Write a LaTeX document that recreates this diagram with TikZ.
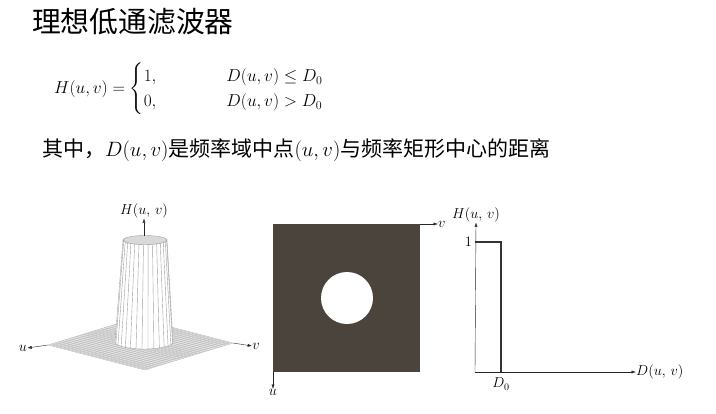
\documentclass[tikz,border=0pt]{standalone}
\usepackage{amsmath}
\usepackage{fontspec}
\newfontfamily\cjk{Noto Sans CJK SC}
\usetikzlibrary{positioning, arrows.meta, calc}
\definecolor{squarebrown}{HTML}{4B443D}
\definecolor{meshgray}{HTML}{B8B8B8}

\begin{document}
\begin{tikzpicture}[
	x=1pt, y=-1pt,
	% --- Styles ---
	titletext/.style={anchor=west, inner sep=0pt, font=\cjk\fontsize{28.8}{30}\selectfont},
	bodytext/.style={anchor=west, inner sep=0pt, font=\cjk\fontsize{21}{24}\selectfont},
	axislabel/.style={inner sep=0pt, font=\fontsize{14}{16}\selectfont},
	axis/.style={draw, -{Latex[length=4.5pt, width=3pt]}, thin, color=black!85},
	stepline/.style={draw, line width=1.4pt, color=black!80},
	mesh/.style={draw, color=meshgray, line width=0.35pt}
	]
	\useasboundingbox (0,0) rectangle (716,413);
	
	% --- 1. Title and formula ---
	\node [titletext] (title) at (32,22) {理想低通滤波器};
	\node [anchor=west, inner sep=0pt, font=\fontsize{17.5}{21}\selectfont] (formula) at (54,89)
	{$H(u,v)=\begin{cases}1, & \qquad\quad D(u,v)\le D_0\\ 0, & \qquad\quad D(u,v)> D_0\end{cases}$};
	\node [bodytext] (note) at (42,150)
	{其中，$D(u,v)$是频率域中点$(u,v)$与频率矩形中心的距离};
	
	% --- 2. Perspective plot (left) ---
	\coordinate (pL) at (48,345);
	\coordinate (pB) at (145,370);
	\coordinate (pR) at (233,343);
	\coordinate (pT) at (136,318);
	\fill [gray!22] (pL) -- (pB) -- (pR) -- (pT) -- cycle;
	\foreach \s in {0,0.04,...,1.01} {
		\draw [mesh] ($(pL)!\s!(pB)$) -- ($(pT)!\s!(pR)$);
		\draw [mesh] ($(pL)!\s!(pT)$) -- ($(pB)!\s!(pR)$);
	}
	
	% Cylinder wall
	\fill [white, draw=gray!70, line width=0.4pt] (167,240) -- (173,342)
	arc [start angle=0, end angle=180, x radius=29, y radius=7]
	-- (123,240) arc [start angle=180, end angle=0, x radius=22, y radius=4.5];
	\foreach \t in {10,22,...,170} {
		\draw [gray!75, line width=0.4pt] ({145+22*cos(\t)},{240+4.5*sin(\t)}) -- ({144+29*cos(\t)},{342+7*sin(\t)});
	}
	% Cylinder top
	\filldraw [fill=gray!30, draw=gray!70, line width=0.4pt] (145,240) ellipse [x radius=22, y radius=4.5];
	
	\coordinate (cyl_top) at (144,236);
	\node [axislabel] (lab_H3d) at (144,211) {$H(u,\,v)$};
	\draw [axis] (cyl_top) -- (lab_H3d.south);
	\node [axislabel] (lab_u3d) at (23,348) {$u$};
	\draw [axis] (pL) -- (lab_u3d.east);
	\node [axislabel] (lab_v3d) at (256,346) {$v$};
	\draw [axis] (pR) -- (lab_v3d.west);
	
	% --- 3. Filter as an image (middle) ---
	\fill [squarebrown] (273,224) rectangle (420,372);
	\fill [white] (347,298) circle [radius=26];
	\coordinate (sq_ne) at (420,224);
	\coordinate (sq_sw) at (273,372);
	\node [axislabel, anchor=west] (lab_vimg) at (438,224) {$v$};
	\draw [axis] (sq_ne) -- (lab_vimg.west);
	\node [axislabel, anchor=north] (lab_uimg) at (273,389) {$u$};
	\draw [axis] (sq_sw) -- (lab_uimg.north);
	
	% --- 4. Radial cross section (right) ---
	\coordinate (origin) at (475,372);
	\node [axislabel] (lab_Hr) at (476,215) {$H(u,\,v)$};
	\node [axislabel, anchor=west] (lab_D) at (636,372) {$D(u,\,v)$};
	\draw [axis] (origin) -- (lab_Hr.south);
	\draw [axis] (origin) -- (lab_D.west);
	\node [axislabel, anchor=east] (lab_one) at (472,242) {$1$};
	\node [axislabel] (lab_D0) at (501,384) {$D_0$};
	\draw [stepline] (origin |- lab_one) -- (lab_D0 |- lab_one) -- (lab_D0 |- origin);
	
\end{tikzpicture}
\end{document}
